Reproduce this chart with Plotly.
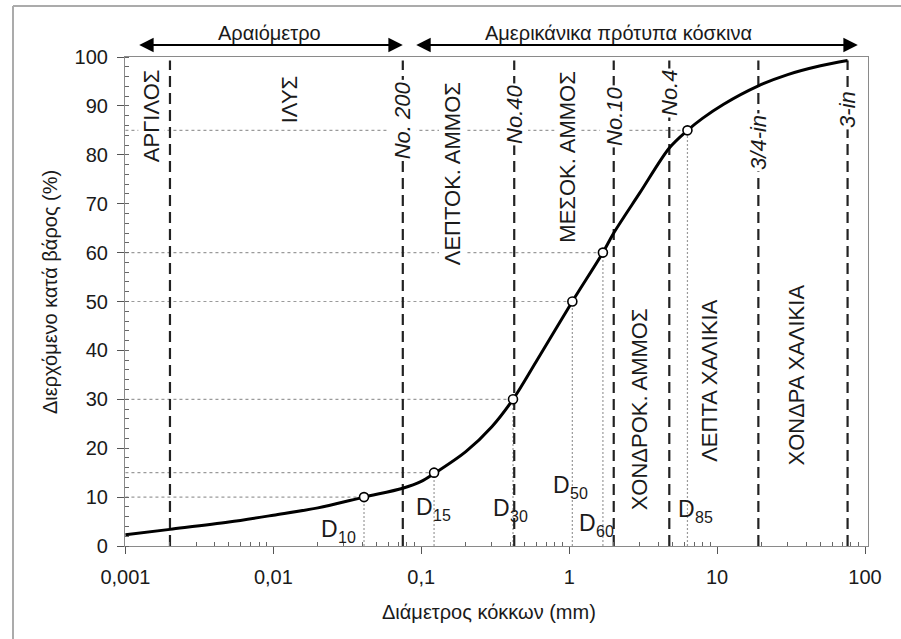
import numpy as np
import plotly.graph_objects as go

# Grading curve: particle diameter (mm) vs. percent passing by weight
diameter_mm = [0.001, 0.002, 0.005, 0.01, 0.02, 0.041, 0.075, 0.1, 0.122, 0.2, 0.3,
               0.417, 0.6, 1.05, 1.69, 2.0, 3.0, 4.75, 6.3, 8, 11, 19, 30, 50, 76.2]
percent_passing = [2.3, 3.4, 4.9, 6.3, 7.8, 10, 11.8, 13.2, 14.8, 19.3, 24.4,
                   30, 37.8, 50, 60, 64, 72.2, 81.4, 85, 87.5, 90.3, 94.1, 96.4, 98.2, 99.3]

# Characteristic diameters
d_names = ["10", "15", "30", "50", "60", "85"]
d_size = [0.041, 0.122, 0.417, 1.05, 1.69, 6.3]
d_pct = [10, 15, 30, 50, 60, 85]

# Boundaries: hydrometer limit and US standard sieves
boundary_size = [0.002, 0.075, 0.425, 2.0, 4.75, 19, 76.2]
sieve_names = ["No. 200", "No.40", "No.10", "No.4", "3/4-in", "3-in"]
sieve_size = [0.075, 0.425, 2.0, 4.75, 19, 76.2]

# Soil classes
zone_names = ["ΑΡΓΙΛΟΣ", "ΙΛΥΣ", "ΛΕΠΤΟΚ. ΑΜΜΟΣ", "ΜΕΣΟΚ. ΑΜΜΟΣ",
              "ΧΟΝΔΡΟΚ. ΑΜΜΟΣ", "ΛΕΠΤΑ ΧΑΛΙΚΙΑ", "ΧΟΝΔΡΑ ΧΑΛΙΚΙΑ"]

x_tickvals = [0.001, 0.01, 0.1, 1, 10, 100]
x_ticktext = ["0,001", "0,01", "0,1", "1", "10", "100"]
y_tickvals = [0, 10, 20, 30, 40, 50, 60, 70, 80, 90, 100]

FONT = "Liberation Sans, Arial, sans-serif"
INK = "#1a1a1a"

# plot area in pixels (used to place text outside the axes)
L, R, T, B = 125, 33, 57, 93
PW, PH = 901 - L - R, 639 - T - B


def px_x(p):
    return (p - L) / PW


def px_y(p):
    return (639 - B - p) / PH


fig = go.Figure()

# reference lines from each characteristic point to the axes
shapes = []
for s, p in zip(d_size, d_pct):
    shapes.append(dict(type="line", xref="x", yref="y", x0=0.001, x1=s, y0=p, y1=p,
                       line=dict(color="#9a9a9a", width=1.2, dash="3px,3px"), layer="below"))
    shapes.append(dict(type="line", xref="x", yref="y", x0=s, x1=s, y0=0, y1=p,
                       line=dict(color="#9a9a9a", width=1.2, dash="2px,2px"), layer="below"))

# dashed class boundaries
for b in boundary_size:
    shapes.append(dict(type="line", xref="x", yref="y", x0=b, x1=b, y0=0, y1=99.3,
                       line=dict(color="#222222", width=2.2, dash="11px,6px"), layer="below"))

# outer frame of the figure
fx0, fy1 = px_x(13), px_y(6)
shapes.append(dict(type="line", xref="paper", yref="paper", x0=fx0, x1=fx0, y0=-0.3, y1=fy1,
                   line=dict(color="#ababab", width=2)))
shapes.append(dict(type="line", xref="paper", yref="paper", x0=fx0, x1=1.2, y0=fy1, y1=fy1,
                   line=dict(color="#ababab", width=2)))

fig.add_trace(go.Scatter(
    x=diameter_mm, y=percent_passing, mode="lines",
    line=dict(color="black", width=3, shape="spline", smoothing=0.9),
    hoverinfo="skip", showlegend=False))

fig.add_trace(go.Scatter(
    x=d_size, y=d_pct, mode="markers",
    marker=dict(symbol="circle", size=9, color="white", line=dict(color="black", width=1.6)),
    showlegend=False))

ann = []

# class names (rotated)
zone_pos = [(0.0015, 88), (0.0129, 91.3), (0.161, 76.2), (0.98, 79.6),
            (3.0, 27.9), (8.9, 33.9), (34.5, 35)]
for name, (zx, zy) in zip(zone_names, zone_pos):
    ann.append(dict(x=np.log10(zx), y=zy, xref="x", yref="y", text=name, textangle=-90,
                    xanchor="center", yanchor="middle",
                    showarrow=False, bgcolor="white", borderpad=0,
                    font=dict(family=FONT, size=22, color=INK)))

# sieve names on their boundary lines
sieve_y = [87, 88.2, 87.9, 92.7, 82.5, 89.3]
for name, s, sy in zip(sieve_names, sieve_size, sieve_y):
    ann.append(dict(x=np.log10(s), y=sy, xref="x", yref="y", text=name,
                    textangle=-90, xanchor="center", yanchor="middle",
                    showarrow=False, bgcolor="white", borderpad=1,
                    font=dict(family=FONT, size=22, color=INK, style="italic")))

# D-labels: a large "D" followed by a lowered, smaller index
d_label_pos = [(-1.685, 3.48), (-1.0425, 7.98), (-0.522, 7.77), (-0.116, 12.47),
               (0.0595, 4.70), (0.729, 7.57)]
for nm, (lx, ly) in zip(d_names, d_label_pos):
    ann.append(dict(x=lx, y=ly, xref="x", yref="y", text="D",
                    xanchor="left", yanchor="middle", showarrow=False, borderpad=0,
                    font=dict(family=FONT, size=23, color=INK)))
    ann.append(dict(x=lx + 0.113, y=ly - 1.74, xref="x", yref="y", text=nm,
                    xanchor="left", yanchor="middle", showarrow=False, borderpad=0,
                    font=dict(family=FONT, size=16, color=INK)))

# range arrows above the plot
arrow_y = px_y(45)
for xa, xb in [(-2.917, -1.125), (-1.044, 1.951)]:
    ann.append(dict(x=xb, y=arrow_y, ax=xa, ay=0, xref="x", yref="paper",
                    axref="x", ayref="pixel", text="", showarrow=True,
                    arrowside="end+start", arrowhead=2, arrowsize=1.6,
                    arrowwidth=1.8, arrowcolor="black"))
ann.append(dict(x=-2.024, y=px_y(33), xref="x", yref="paper", text="Αραιόμετρο",
                xanchor="center", yanchor="middle",
                showarrow=False, font=dict(family=FONT, size=20, color=INK)))
ann.append(dict(x=0.335, y=px_y(33), xref="x", yref="paper", text="Αμερικάνικα πρότυπα κόσκινα",
                xanchor="center", yanchor="middle",
                showarrow=False, font=dict(family=FONT, size=20, color=INK)))

# axis titles
ann.append(dict(x=px_x(489), y=px_y(612), xref="paper", yref="paper",
                xanchor="center", yanchor="middle",
                text="Διάμετρος κόκκων (mm)", showarrow=False,
                font=dict(family=FONT, size=20, color=INK)))
ann.append(dict(x=px_x(50), y=px_y(292), xref="paper", yref="paper",
                xanchor="center", yanchor="middle",
                text="Διερχόμενο κατά βάρος (%)", textangle=-90, showarrow=False,
                font=dict(family=FONT, size=20, color=INK)))

minor_x = [k * 10.0 ** e for e in range(-3, 2) for k in range(2, 10)]

fig.update_layout(
    width=901, height=639,
    margin=dict(l=L, r=R, t=T, b=B),
    paper_bgcolor="white", plot_bgcolor="white",
    shapes=shapes, annotations=ann, showlegend=False,
    xaxis=dict(type="log", range=[-3.003, 2.02], tickvals=x_tickvals, ticktext=x_ticktext,
               ticks="outside", ticklen=7, tickwidth=1, tickcolor="#555",
               showline=True, linecolor="#8a8a8a", linewidth=1.2, mirror=True,
               showgrid=False, zeroline=False, ticklabelstandoff=6,
               tickfont=dict(family=FONT, size=20, color=INK),
               minor=dict(tickvals=minor_x, ticks="inside", ticklen=4,
                          tickcolor="#666", showgrid=False)),
    yaxis=dict(range=[0, 100], tickvals=y_tickvals,
               ticks="outside", ticklen=7, tickwidth=1, tickcolor="#555",
               showline=True, linecolor="#8a8a8a", linewidth=1.2, mirror=True,
               showgrid=False, zeroline=False, ticklabelstandoff=5,
               tickfont=dict(family=FONT, size=20, color=INK),
               minor=dict(dtick=2, ticks="inside", ticklen=4,
                          tickcolor="#666", showgrid=False)),
)

fig.write_html("out.html")
